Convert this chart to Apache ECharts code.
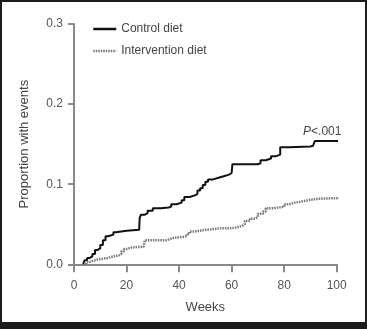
<!DOCTYPE html>
<html><head><meta charset="utf-8">
<script src="https://cdn.jsdelivr.net/npm/echarts@6/dist/echarts.min.js"></script>
<style>
html,body{margin:0;padding:0;background:#1c1c1c;width:367px;height:329px;overflow:hidden}
#c{position:absolute;left:2px;top:2px;width:363px;height:320px;background:#fff}
</style></head>
<body><div id="c"></div>
<script>
// Weeks / cumulative proportion with events (step points)
const controlWeeks = [3.5,4,5,6,7,8,9,10,11,12,13,15,16,20,24.8,25,25.5,27,28,30,33,36,37,39,41,42,44,46,47,48,49,50,51,53,55,57,59,60,60.3,65,70,71,73,75,77,78.5,82,90,91,91.7,104];
const controlVals  = [0,0.005,0.008,0.01,0.013,0.018,0.02,0.024,0.03,0.035,0.037,0.04,0.042,0.043,0.044,0.058,0.062,0.064,0.067,0.07,0.071,0.072,0.075,0.077,0.08,0.084,0.086,0.088,0.092,0.095,0.099,0.103,0.106,0.108,0.11,0.112,0.114,0.115,0.125,0.125,0.126,0.13,0.132,0.135,0.137,0.146,0.147,0.148,0.15,0.154,0.154];
const interWeeks = [4.5,5,6,7,9,11,13,15,17,18,19,20,22,26.5,27,30,35,36,38,41,43,44,46,50,53,56,60,62,64,65,67,69,70,72,73,76,78,80,82,84,86,89,91,94,104];
const interVals  = [0,0.003,0.004,0.006,0.007,0.008,0.01,0.011,0.013,0.016,0.019,0.021,0.022,0.023,0.03,0.03,0.031,0.033,0.034,0.035,0.038,0.041,0.043,0.044,0.045,0.045,0.046,0.048,0.05,0.054,0.057,0.059,0.063,0.066,0.07,0.071,0.072,0.075,0.077,0.078,0.08,0.081,0.082,0.083,0.083];
const xTicks = [0,20,40,60,80,100];
const yTicks = [0,0.1,0.2,0.3];
const seriesNames = ['Control diet','Intervention diet'];

const zip = (a,b) => a.map((v,i)=>[v,b[i]]);
const font = 'Liberation Sans, Arial, sans-serif';
const axisGray = '#8a8a8a';
const chart = echarts.init(document.getElementById('c'));
chart.setOption({
  animation:false,
  backgroundColor:'#fff',
  textStyle:{fontFamily:font},
  grid:{left:72,right:28.3,top:22,bottom:57.7},
  legend:{
    orient:'vertical', left:85, top:16, itemWidth:23, itemHeight:14, itemGap:10,
    itemStyle:{opacity:0},
    lineStyle:{width:2.5},
    textStyle:{color:'#444',fontSize:12,fontFamily:font},
    data:seriesNames
  },
  xAxis:{
    type:'value', min:xTicks[0], max:xTicks[xTicks.length-1], interval:20, offset:5,
    name:'Weeks', nameLocation:'middle', nameGap:32,
    nameTextStyle:{color:'#444',fontSize:13,fontFamily:font},
    axisLine:{show:true,lineStyle:{color:axisGray,width:2}},
    axisTick:{show:true,inside:false,length:8,lineStyle:{color:axisGray,width:2}},
    axisLabel:{color:'#555',fontSize:12,margin:10,fontFamily:font},
    splitLine:{show:false}
  },
  yAxis:{
    type:'value', min:yTicks[0], max:yTicks[yTicks.length-1], interval:0.1, offset:5,
    name:'Proportion with events', nameLocation:'middle', nameGap:38, nameRotate:90,
    nameTextStyle:{color:'#444',fontSize:13,fontFamily:font},
    axisLine:{show:true,lineStyle:{color:axisGray,width:2}},
    axisTick:{show:true,length:6,lineStyle:{color:axisGray,width:2}},
    axisLabel:{color:'#555',fontSize:12,margin:6,fontFamily:font,formatter:v=>v.toFixed(1)},
    splitLine:{show:false}
  },
  series:[
    {name:seriesNames[0], type:'line', step:'end', symbol:'none', clip:false,
     data:zip(controlWeeks,controlVals),
     itemStyle:{color:'#111'},
     lineStyle:{color:'#111',width:2},
     markPoint:{symbol:'circle',symbolSize:0,silent:true,
       data:[{coord:[94.5,0.154]}],
       label:{show:true,position:'top',distance:3,color:'#444',fontSize:12,fontFamily:font,
         formatter:'{i|P}<.001',rich:{i:{fontStyle:'italic',fontSize:12,color:'#444',fontFamily:font}}}}
    },
    {name:seriesNames[1], type:'line', step:'end', symbol:'none', clip:false,
     data:zip(interWeeks,interVals),
     itemStyle:{color:'#7a7a7a'},
     lineStyle:{color:'#7a7a7a',width:2.5,type:[1.5,1]}
    }
  ]
});
</script></body></html>
